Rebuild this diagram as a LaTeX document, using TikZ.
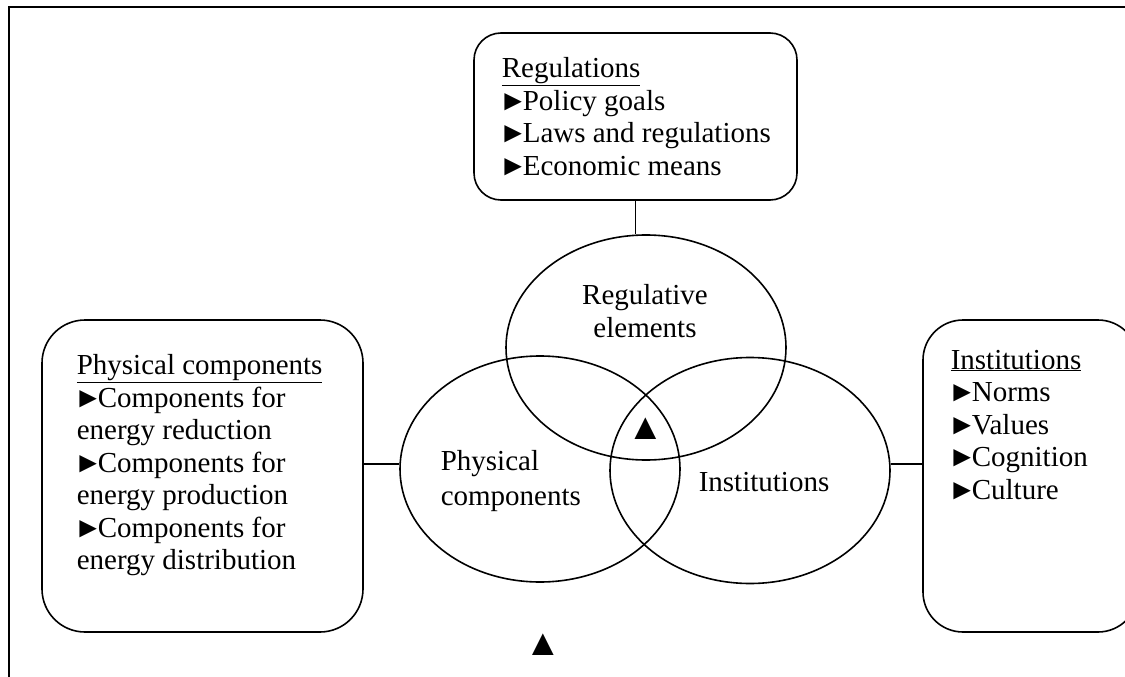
\documentclass[tikz,border=0pt]{standalone}
\usepackage{fontspec}
\setmainfont{Liberation Serif}
\usetikzlibrary{shapes.geometric}

% bullet with a tight advance
\newcommand\bul{\makebox[21pt][l]{\kern-3pt►}}

\begin{document}
\begin{tikzpicture}[x=1pt,y=-1pt,
  line width=1.6pt,
  txt/.style={font=\fontsize{29}{32.5}\selectfont, inner sep=0pt, align=left},
  panel/.style={draw, rectangle, inner sep=0pt},
  oval/.style={draw, ellipse, inner sep=0pt, minimum width=280pt, minimum height=226pt},
  link/.style={draw, line width=1.4pt},
  trimark/.style={font=\fontsize{37}{37}\selectfont, inner sep=0pt}
]
\useasboundingbox (0,0) rectangle (1125,677);

% outer frame (top and left edges)
\coordinate (fbl) at (9,677);
\coordinate (ftl) at (9,7);
\coordinate (ftr) at (1125,7);
\draw[line width=2.2pt] (fbl) -- (ftl) -- (ftr);

% the three overlapping sets
\node[oval, minimum height=225pt] (regell)  at (646,347.5) {};
\node[oval] (physell) at (540,469) {};
\node[oval] (instell) at (750,470.5) {};

\node[txt, align=center] (reglab) at (645,311) {Regulative\\elements};
\node[txt, anchor=west, font=\fontsize{29}{35}\selectfont] (physlab) at (440,481) {Physical\\components};
\node[txt, anchor=west] (instlab) at (698,482) {Institutions};

% descriptive panels
\node[panel, rounded corners=27pt, minimum width=323pt, minimum height=167pt]
  (regbox) at (635.5,116.5) {};
\node[panel, rounded corners=43pt, minimum width=321pt, minimum height=312pt]
  (physbox) at (202.5,476) {};
\node[panel, rounded corners=40pt, minimum width=215pt, minimum height=312pt]
  (instbox) at (1030.5,476) {};

\node[txt, anchor=north west] (regtxt) at (501,57)
  {\underline{Regulations}\\\bul Policy goals\\\bul Laws and regulations\\\bul Economic means};
\node[txt, anchor=north west] (phystxt) at (76,354)
  {\underline{Physical components}\\\bul Components for\\energy reduction\\\bul Components for\\energy production\\\bul Components for\\energy distribution};
\node[txt, anchor=north west] (insttxt) at (950,349)
  {\underline{Institutions}\\\bul Norms\\\bul Values\\\bul Cognition\\\bul Culture};

% connectors between panels and sets
\draw[link] (regbox.south) -- (regbox.south |- regell.north);
\draw[link] (physbox.east |- 0,464) -- (physell.west |- 0,464);
\draw[link] (instell.east |- 0,464) -- (instbox.west |- 0,464);

% markers
\node[trimark] (tri1) at (645.5,429) {▲};
\node[trimark] (tri2) at (543,645) {▲};
\end{tikzpicture}
\end{document}
